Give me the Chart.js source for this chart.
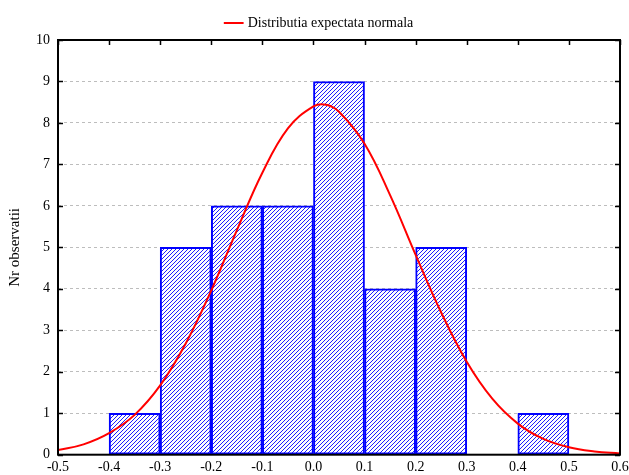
<!DOCTYPE html>
<html>
<head>
<meta charset="utf-8">
<script src="https://cdn.jsdelivr.net/npm/chart.js@4"></script>
<style>
html,body{margin:0;padding:0;background:#fff;}
#wrap{width:629px;height:475px;}
</style>
</head>
<body>
<div id="wrap"><canvas id="c" width="629" height="475"></canvas></div>
<script>
// Histogram bins (centers) and counts
const binCenters = [-0.35, -0.25, -0.15, -0.05, 0.05, 0.15, 0.25, 0.35, 0.45];
const binCounts  = [1, 5, 6, 6, 9, 4, 5, 0, 1];
// Expected normal curve
const curveX = [-0.5,-0.45,-0.4,-0.35,-0.3,-0.25,-0.2,-0.15,-0.1,-0.05,0,0.025,0.05,0.1,0.15,0.2,0.25,0.3,0.35,0.4,0.45,0.5,0.55,0.6];
const curveY = [0.11,0.25,0.52,0.96,1.67,2.68,3.96,5.41,6.8,7.87,8.4,8.44,8.27,7.5,6.26,4.82,3.43,2.24,1.35,0.75,0.38,0.18,0.08,0.03];
const xTicks = [-0.5,-0.4,-0.3,-0.2,-0.1,0,0.1,0.2,0.3,0.4,0.5,0.6];
const yTicks = [0,1,2,3,4,5,6,7,8,9,10];
const legendLabel = 'Distributia expectata normala';
const yTitle = 'Nr observatii';

const FONT = "'Liberation Serif','Times New Roman',serif";

function makeHatch(){
  const s = 4;
  const p = document.createElement('canvas');
  p.width = s; p.height = s;
  const g = p.getContext('2d');
  g.fillStyle = '#ffffff';
  g.fillRect(0,0,s,s);
  g.fillStyle = '#1f1fff';
  for(let i=0;i<s;i++) for(let j=0;j<s;j++){
    if((i+j)%s===0) g.fillRect(i,j,1,1);
  }
  return document.getElementById('c').getContext('2d').createPattern(p,'repeat');
}

const framePlugin = {
  id:'frame',
  afterLayout(chart){
    if(chart.legend){ chart.legend.left += 9; chart.legend.right += 9; }
  },
  afterDraw(chart){
    const {ctx, chartArea:a, scales} = chart;
    ctx.save();
    ctx.strokeStyle = '#000';
    ctx.lineWidth = 2;
    ctx.strokeRect(a.left, a.top, a.right-a.left, a.bottom-a.top);
    ctx.lineWidth = 1.5;
    ctx.beginPath();
    xTicks.forEach(v=>{
      const px = Math.round(scales.x.getPixelForValue(v))+0.5;
      ctx.moveTo(px, a.top); ctx.lineTo(px, a.top+5);
    });
    yTicks.forEach(v=>{
      const py = Math.round(scales.y.getPixelForValue(v))+0.5;
      ctx.moveTo(a.left, py); ctx.lineTo(a.left+5, py);
      ctx.moveTo(a.right, py); ctx.lineTo(a.right-5, py);
    });
    ctx.stroke();
    ctx.restore();
  }
};

new Chart(document.getElementById('c'), {
  type:'bar',
  data:{
    datasets:[
      {
        type:'line',
        label: legendLabel,
        data: curveX.map((x,i)=>({x, y:curveY[i]})),
        borderColor:'#ff0000',
        backgroundColor:'#ff0000',
        borderWidth:2,
        pointRadius:0,
        tension:0.4,
        fill:false,
        order:0
      },
      {
        type:'bar',
        label:'hist',
        data: binCenters.map((x,i)=>({x, y:binCounts[i]})),
        backgroundColor: makeHatch(),
        borderColor:'#0000ff',
        borderWidth:2,
        borderSkipped:false,
        barPercentage:1,
        categoryPercentage:1,
        order:1
      }
    ]
  },
  options:{
    responsive:false,
    animation:false,
    layout:{padding:{left:2,right:9,top:2,bottom:3.5}},
    plugins:{
      legend:{
        display:true,
        position:'top',
        labels:{
          filter:(item)=>item.text===legendLabel,
          font:{family:FONT,size:14},
          color:'#000',
          usePointStyle:true,
          pointStyle:'line',
          boxWidth:24,
          padding:14
        }
      },
      tooltip:{enabled:false}
    },
    scales:{
      x:{
        type:'linear',
        min:-0.5, max:0.6,
        offset:false,
        grid:{display:false},
        border:{display:false},
        afterBuildTicks(scale){ scale.ticks = xTicks.map(v=>({value:v})); },
        ticks:{
          callback:(v)=>Number(v).toFixed(1),
          font:{family:FONT,size:14},
          color:'#000',
          padding:-4,
          maxRotation:0,
          autoSkip:false
        }
      },
      y:{
        min:0, max:10,
        grid:{color:'#bdbdbd', drawTicks:false, lineWidth:1},
        border:{display:false, dash:[3,3]},
        afterBuildTicks(scale){ scale.ticks = yTicks.map(v=>({value:v})); },
        ticks:{
          font:{family:FONT,size:14},
          color:'#000',
          padding:8
        },
        title:{display:true, text:yTitle, font:{family:FONT,size:15}, color:'#000', padding:{top:4,bottom:4}}
      }
    }
  },
  plugins:[framePlugin]
});
</script>
</body>
</html>
